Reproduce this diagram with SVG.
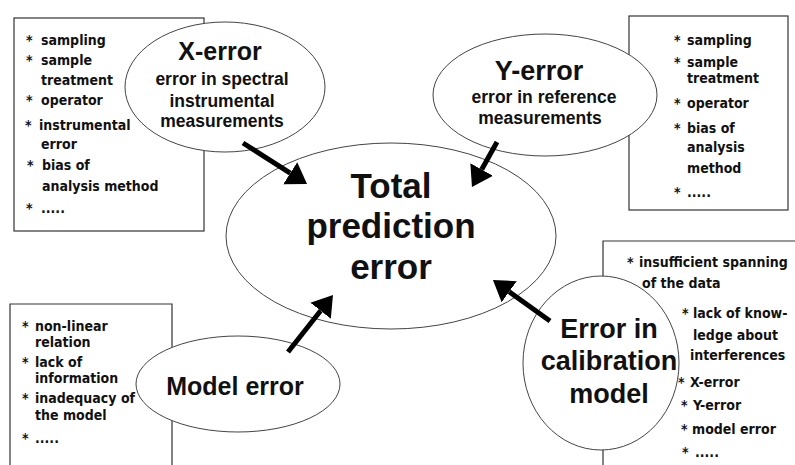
<svg xmlns="http://www.w3.org/2000/svg" width="795" height="465" viewBox="0 0 795 465">
<defs>
<style>
.box{fill:#fff;stroke:#333;stroke-width:1.2}
.ell{fill:#fff;stroke:#444;stroke-width:1}
.li{font-family:"DejaVu Sans Condensed","DejaVu Sans",sans-serif;font-weight:bold;font-size:14px;fill:#111}
.t{font-family:"Liberation Sans",Arial,sans-serif;font-weight:bold;fill:#111;text-anchor:middle}
.arr{stroke:#000;stroke-width:5;fill:none;marker-end:url(#ah)}
</style>
<marker id="ah" markerUnits="userSpaceOnUse" markerWidth="22" markerHeight="28" refX="0" refY="13" orient="auto">
<path d="M0,0 L20,13 L0,26 z" fill="#000"/>
</marker>
</defs>
<rect width="795" height="465" fill="#fff"/>

<g id="box-x">
<rect class="box" x="14" y="18" width="190" height="213"/>
<text class="li"><tspan x="26" y="45">*</tspan><tspan x="41" y="45">sampling</tspan></text>
<text class="li"><tspan x="26" y="65">*</tspan><tspan x="41" y="65">sample</tspan><tspan x="41" y="85">treatment</tspan></text>
<text class="li"><tspan x="26" y="105">*</tspan><tspan x="41" y="105">operator</tspan></text>
<text class="li"><tspan x="25" y="130">*</tspan><tspan x="39" y="130">instrumental</tspan><tspan x="41" y="149">error</tspan></text>
<text class="li"><tspan x="27" y="170">*</tspan><tspan x="42" y="170">bias of</tspan><tspan x="42" y="191">analysis method</tspan></text>
<text class="li"><tspan x="26" y="213">*</tspan><tspan x="41" y="213">.....</tspan></text>
</g>

<g id="box-y">
<rect class="box" x="629" y="16" width="159" height="194"/>
</g>

<g id="box-model">
<path class="box" d="M10,465 V304 H172 V465"/>
<text class="li"><tspan x="22" y="331">*</tspan><tspan x="35" y="331">non-linear</tspan><tspan x="35" y="347">relation</tspan></text>
<text class="li"><tspan x="22" y="367">*</tspan><tspan x="35" y="367">lack of</tspan><tspan x="35" y="383">information</tspan></text>
<text class="li"><tspan x="22" y="403">*</tspan><tspan x="35" y="403">inadequacy of</tspan><tspan x="35" y="420">the model</tspan></text>
<text class="li"><tspan x="22" y="443">*</tspan><tspan x="35" y="443">.....</tspan></text>
</g>

<g id="box-calib">
<path class="box" d="M603,465 V241 H796"/>
<text class="li"><tspan x="627" y="267">*</tspan><tspan x="639" y="267">insufficient spanning</tspan><tspan x="642" y="288">of the data</tspan></text>
<text class="li"><tspan x="682" y="318">*</tspan><tspan x="693" y="318">lack of know-</tspan><tspan x="693" y="340">ledge about</tspan><tspan x="690" y="360">interferences</tspan></text>
<text class="li"><tspan x="678" y="387">*</tspan><tspan x="690" y="387">X-error</tspan></text>
<text class="li"><tspan x="681" y="410">*</tspan><tspan x="693" y="410">Y-error</tspan></text>
<text class="li"><tspan x="681" y="434">*</tspan><tspan x="692" y="434">model error</tspan></text>
<text class="li"><tspan x="682" y="457">*</tspan><tspan x="695" y="457">.....</tspan></text>
</g>

<g id="total">
<ellipse class="ell" cx="391" cy="236" rx="165" ry="93"/>
<text class="t" font-size="35"><tspan x="391" y="198">Total</tspan><tspan x="391" y="238">prediction</tspan><tspan x="391" y="279">error</tspan></text>
</g>

<g id="x-error">
<ellipse class="ell" cx="225" cy="87" rx="100" ry="65"/>
<text class="t" font-size="25" x="220" y="60">X-error</text>
<text class="t" font-size="17.5"><tspan x="222" y="85">error in spectral</tspan><tspan x="222" y="107">instrumental</tspan><tspan x="222" y="127">measurements</tspan></text>
</g>

<g id="y-error">
<ellipse class="ell" cx="545" cy="95" rx="112" ry="61"/>
<text class="t" font-size="27" x="539" y="80">Y-error</text>
<text class="t" font-size="17.5"><tspan x="544" y="103">error in reference</tspan><tspan x="540" y="124">measurements</tspan></text>
<text class="li"><tspan x="674" y="45">*</tspan><tspan x="687" y="45">sampling</tspan></text>
<text class="li"><tspan x="674" y="67">*</tspan><tspan x="687" y="67">sample</tspan><tspan x="687" y="83">treatment</tspan></text>
<text class="li"><tspan x="674" y="108">*</tspan><tspan x="687" y="108">operator</tspan></text>
<text class="li"><tspan x="674" y="133">*</tspan><tspan x="687" y="133">bias of</tspan><tspan x="687" y="152">analysis</tspan><tspan x="687" y="173">method</tspan></text>
<text class="li"><tspan x="674" y="197">*</tspan><tspan x="687" y="197">.....</tspan></text>
</g>

<g id="model-error">
<ellipse class="ell" cx="238" cy="384" rx="102" ry="48"/>
<text class="t" font-size="25" x="235" y="395">Model error</text>
</g>

<g id="calib-error">
<ellipse class="ell" cx="601" cy="363" rx="78" ry="87"/>
<text class="t" font-size="27"><tspan x="609" y="338">Error in</tspan><tspan x="609" y="370">calibration</tspan><tspan x="609" y="403">model</tspan></text>
</g>

<g id="connectors">
<line class="arr" x1="243" y1="143" x2="290.2" y2="173.2"/>
<line class="arr" x1="497" y1="142" x2="481.7" y2="169.5"/>
<line class="arr" x1="288" y1="352" x2="320.6" y2="310.7"/>
<line class="arr" x1="550" y1="321" x2="509.2" y2="291.7"/>
</g>
</svg>
